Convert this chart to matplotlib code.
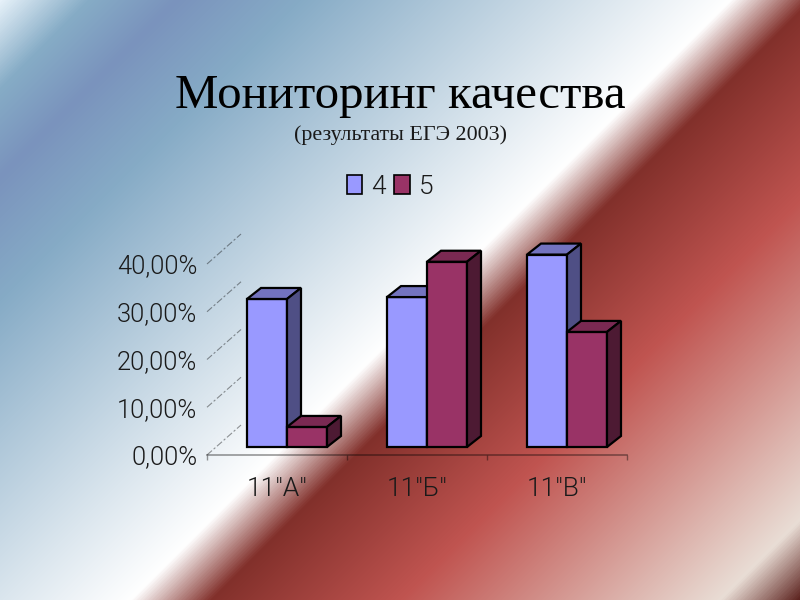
# Monitoring chart on a diagonal gradient slide, fake 3D bars
import matplotlib
matplotlib.use("Agg")
import matplotlib.pyplot as plt
import numpy as np
from matplotlib.colors import LinearSegmentedColormap, to_rgb
from matplotlib.patches import Polygon, Patch

# Data
classes = ['11"А"', '11"Б"', '11"В"']
grade_4 = [31.0, 31.4, 40.3]
grade_5 = [4.2, 38.8, 24.1]
y_ticks = [0, 10, 20, 30, 40]
y_labels = ["0,00%", "10,00%", "20,00%", "30,00%", "40,00%"]

# Background gradient stops, position along x+y in pixels
bg_pos = [0, 87, 175, 300, 730, 810, 1000, 1320, 1400]
bg_col = ["#E6F1F9", "#86ACC6", "#7A93BD", "#86ABC6", "#FFFFFF",
          "#82302B", "#C05450", "#E9DDD5", "#5A201C"]

W, H = 800, 600
fig = plt.figure(figsize=(W / 100, H / 100), dpi=100)

bg = fig.add_axes([0, 0, 1, 1])
bg.axis("off")
cmap = LinearSegmentedColormap.from_list(
    "slide", [(p / 1400, to_rgb(c)) for p, c in zip(bg_pos, bg_col)], N=1024)
xx, yy = np.meshgrid(np.arange(W), np.arange(H))
bg.imshow(xx + yy, cmap=cmap, vmin=0, vmax=1400, aspect="auto", interpolation="nearest")

# Titles
fig.text(0.5, 1 - 108 / H, "Мониторинг качества", family="Liberation Serif",
         fontsize=35.2, color="black", ha="center", va="baseline")
fig.text(0.5, 1 - 140 / H, "(результаты ЕГЭ 2003)", family="Liberation Serif",
         fontsize=15.8, color="#1a1a1a", ha="center", va="baseline")

# Chart axes, pixel box is x 207-627, y 264-455
ax = fig.add_axes([207 / W, 1 - 455 / H, 420 / W, 191 / H])
ax.patch.set_alpha(0)
ax.set_xlim(-0.5, 2.5)
ax.set_ylim(0, 40)
for s in ["top", "left", "right"]:
    ax.spines[s].set_visible(False)
ax.spines["bottom"].set_color((0, 0, 0, 0.4))
ax.spines["bottom"].set_linewidth(1.2)

px_x = 3 / 420
px_y = 40 / 191
bar_w = 40 * px_x
offset = 10 * px_x
floor = 8 * px_y
dx = 14 * px_x
dy = 11 * px_y

label_font = "Roboto"

# Back wall grid lines
for t in y_ticks:
    ax.plot([-0.5, -0.5 + 34 * px_x], [t, t + 30 * px_y], color=(0, 0, 0, 0.4),
            lw=0.8, ls=(0, (6, 2, 2, 2)), clip_on=False)


def bar_3d(x, value, front, top, side):
    left, right = x, x + bar_w
    h = floor + value
    ax.bar(x, value, bar_w, bottom=floor, align="edge", color=front,
           edgecolor="black", linewidth=1.6, zorder=5, clip_on=False)
    ax.add_patch(Polygon([(left, h), (left + dx, h + dy), (right + dx, h + dy), (right, h)],
                         facecolor=top, edgecolor="black", lw=1.6, zorder=5, clip_on=False))
    ax.add_patch(Polygon([(right, floor), (right + dx, floor + dy), (right + dx, h + dy), (right, h)],
                         facecolor=side, edgecolor="black", lw=1.6, zorder=5, clip_on=False))


for i in range(len(classes)):
    bar_3d(i + offset - bar_w, grade_4[i], "#9999FF", "#7373BF", "#4F4F85")
    bar_3d(i + offset, grade_5[i], "#993366", "#7A2952", "#4D1A33")

# Axes text
ax.set_yticks(y_ticks)
ax.set_yticklabels(y_labels, family=label_font, fontsize=18.4, fontweight=300, color="#1a1a1a")
ax.tick_params(axis="y", length=0, pad=7)
ax.set_xticks(range(len(classes)))
ax.set_xticklabels(classes, family=label_font, fontsize=19, fontweight=300, color="#1a1a1a")
ax.tick_params(axis="x", which="major", length=0, pad=15.5)
ax.set_xticks([-0.5, 0.5, 1.5, 2.5], minor=True)
ax.tick_params(axis="x", which="minor", length=3.5, width=1, color=(0, 0, 0, 0.4))

# Legend
handles = [Patch(facecolor="#9999FF", edgecolor="black", linewidth=1.2, label="4"),
           Patch(facecolor="#993366", edgecolor="black", linewidth=1.2, label="5")]
ax.legend(handles=handles, ncol=2, frameon=False, loc="center",
          bbox_to_anchor=(390 / W, 1 - 187 / H), bbox_transform=fig.transFigure,
          prop={"family": label_font, "size": 19, "weight": 300}, labelcolor="#1a1a1a",
          handlelength=0.58, handleheight=0.75, handletextpad=0.33, columnspacing=0.33,
          borderpad=0)

fig.savefig("out.png", dpi=100)
